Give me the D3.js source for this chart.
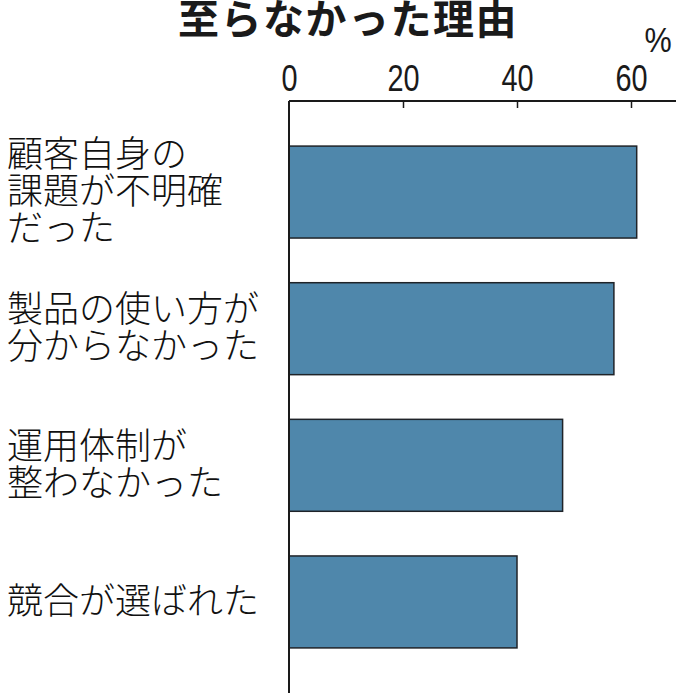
<!DOCTYPE html>
<html>
<head>
<meta charset="utf-8">
<script src="https://cdn.jsdelivr.net/npm/d3@7"></script>
<style>
  body { margin: 0; background: #fff; }
  svg { display: block; }
  .tick-label { font-family: "Liberation Sans", Arial, sans-serif; }
</style>
</head>
<body>
<div id="chart"></div>
<script>
const width = 696;
const height = 696;

// data
const reasons = [
	["顧客自身の", "課題が不明確", "だった"],
	["製品の使い方が", "分からなかった"],
	["運用体制が", "整わなかった"],
	["競合が選ばれた"]
];
const shares = [61, 57, 48, 40];
const tickValues = [0, 20, 40, 60];

const svg = d3
	.select("#chart")
	.append("svg")
	.attr("width", width)
	.attr("height", height);

const x = d3.scaleLinear().domain([0, 60]).range([289, 631]);
const y = d3
	.scaleBand()
	.domain(d3.range(reasons.length))
	.range([101, 693])
	.paddingInner(0.327)
	.paddingOuter(0.33);

// title (cut at the top in the original)
svg.append("text")
	.attr("x", 348)
	.attr("y", 34)
	.attr("text-anchor", "middle")
	.attr("font-family", "'Noto Sans CJK JP', sans-serif")
	.attr("font-weight", 700)
	.attr("font-size", 41)
	.attr("letter-spacing", 1.5)
	.attr("fill", "#1a1a1a")
	.text("至らなかった理由");

// unit, drawn narrow like the tick numbers
svg.append("text")
	.attr("transform", "translate(658,52) scale(0.85,1)")
	.attr("text-anchor", "middle")
	.attr("class", "tick-label")
	.attr("font-size", 36)
	.attr("fill", "#1a1a1a")
	.text("%");

// bars
svg.append("g")
	.selectAll("rect")
	.data(shares)
	.enter()
	.append("rect")
	.attr("x", x(0))
	.attr("y", (d, i) => y(i))
	.attr("width", d => x(d) - x(0))
	.attr("height", y.bandwidth())
	.attr("fill", "#4f87ab")
	.attr("stroke", "#1f2328")
	.attr("stroke-width", 1.5);

// top axis
const axis = svg.append("g")
	.attr("transform", `translate(0,101)`)
	.call(d3.axisTop(x).tickValues(tickValues).tickSize(-7).tickPadding(0).tickFormat(d3.format("d")));

axis.select(".domain")
	.attr("d", `M${x(0)},0H676`)
	.attr("stroke", "#1a1a1a")
	.attr("stroke-width", 2);
axis.selectAll(".tick line")
	.attr("stroke", "#1a1a1a")
	.attr("stroke-width", 1.5)
	.filter(d => d === 0).remove();
axis.selectAll(".tick text")
	.attr("class", "tick-label")
	.attr("y", -10)
	.attr("dy", null)
	.attr("transform", "scale(0.78,1)")
	.attr("font-size", 37)
	.attr("fill", "#1a1a1a");

// vertical baseline
svg.append("line")
	.attr("x1", x(0))
	.attr("x2", x(0))
	.attr("y1", 101)
	.attr("y2", 693)
	.attr("stroke", "#1a1a1a")
	.attr("stroke-width", 2);

// category labels
const lineGap = 37;
const labels = svg.append("g")
	.attr("font-family", "'Noto Sans CJK JP', sans-serif")
	.attr("font-weight", 300)
	.attr("font-size", 36)
	.attr("fill", "#111");

reasons.forEach((lines, i) => {
	const mid = y(i) + y.bandwidth() / 2 - 4;
	const first = mid - (lines.length - 1) * lineGap / 2;
	const t = labels.append("text")
		.attr("x", 7)
		.attr("y", first)
		.attr("dominant-baseline", "central");
	lines.forEach((s, k) => {
		t.append("tspan")
			.attr("x", 7)
			.attr("y", first + k * lineGap)
			.text(s);
	});
});
</script>
</body>
</html>
